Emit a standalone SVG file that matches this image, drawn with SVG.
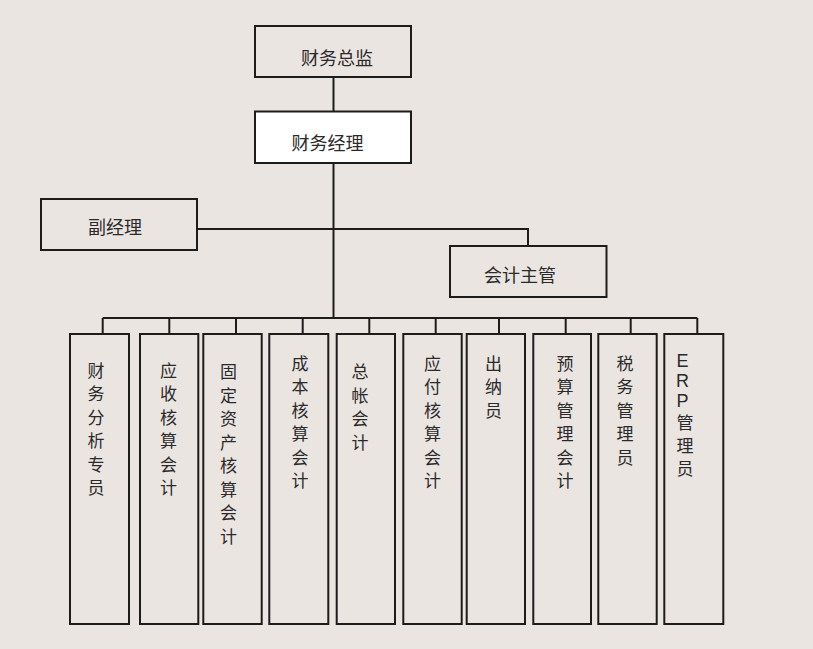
<svg xmlns="http://www.w3.org/2000/svg" width="813" height="649" viewBox="0 0 813 649">
<style>
.bx{fill:#ebe5e2;stroke:#1c1c1c;stroke-width:2}
.wb{fill:#ffffff;stroke:#1c1c1c;stroke-width:2}
.ln{fill:none;stroke:#1c1c1c;stroke-width:2}
.t{font-family:"Noto Sans CJK SC","Liberation Sans",sans-serif;font-size:18px;fill:#2a2a2a;text-anchor:middle}
.v{font-family:"Noto Sans CJK SC","Liberation Sans",sans-serif;font-size:17px;fill:#2a2a2a;text-anchor:middle}
.e{font-family:"Liberation Sans","Noto Sans CJK SC",sans-serif;font-size:17px;fill:#2a2a2a;text-anchor:middle}
</style>
<rect width="813" height="649" fill="#ebe5e2"/>
<g id="connectors">
<path class="ln" d="M333.5 77V111"/>
<path class="ln" d="M333.5 163V318"/>
<path class="ln" d="M197 229H528V246"/>
<path class="ln" d="M102.7 318H697.3"/>
<path class="ln" d="M102.7 318V334M169.3 318V334M236 318V334M302.7 318V334M369.3 318V334M435.7 318V334M499 318V334M565.7 318V334M630.7 318V334M697.3 318V334"/>
</g>
<g id="n-cfo"><rect class="bx" x="255" y="26" width="156" height="51"/><text class="t" x="337" y="65">财务总监</text></g>
<g id="n-fm"><rect class="wb" x="255" y="111.5" width="156" height="51.5"/><text class="t" x="327.5" y="149.5">财务经理</text></g>
<g id="n-dm"><rect class="bx" x="41" y="199" width="156" height="51"/><text class="t" x="115" y="233.5">副经理</text></g>
<g id="n-ac"><rect class="bx" x="450" y="246" width="156.5" height="51"/><text class="t" x="520" y="282">会计主管</text></g>
<g id="n1"><rect class="bx" x="70" y="334" width="59" height="290"/>
<text class="v" x="96" y="376.5"><tspan x="96">财</tspan><tspan x="96" dy="23.5">务</tspan><tspan x="96" dy="23.5">分</tspan><tspan x="96" dy="23.5">析</tspan><tspan x="96" dy="23.5">专</tspan><tspan x="96" dy="23.5">员</tspan></text></g>
<g id="n2"><rect class="bx" x="140" y="334" width="58.3" height="290"/>
<text class="v" x="168.5" y="376.5"><tspan x="168.5">应</tspan><tspan x="168.5" dy="23.5">收</tspan><tspan x="168.5" dy="23.5">核</tspan><tspan x="168.5" dy="23.5">算</tspan><tspan x="168.5" dy="23.5">会</tspan><tspan x="168.5" dy="23.5">计</tspan></text></g>
<g id="n3"><rect class="bx" x="203.3" y="334" width="58.4" height="290"/>
<text class="v" x="228.5" y="378"><tspan x="228.5">固</tspan><tspan x="228.5" dy="23.5">定</tspan><tspan x="228.5" dy="23.5">资</tspan><tspan x="228.5" dy="23.5">产</tspan><tspan x="228.5" dy="23.5">核</tspan><tspan x="228.5" dy="23.5">算</tspan><tspan x="228.5" dy="23.5">会</tspan><tspan x="228.5" dy="23.5">计</tspan></text></g>
<g id="n4"><rect class="bx" x="269.3" y="334" width="59" height="290"/>
<text class="v" x="300" y="369.5"><tspan x="300">成</tspan><tspan x="300" dy="23.5">本</tspan><tspan x="300" dy="23.5">核</tspan><tspan x="300" dy="23.5">算</tspan><tspan x="300" dy="23.5">会</tspan><tspan x="300" dy="23.5">计</tspan></text></g>
<g id="n5"><rect class="bx" x="336.7" y="334" width="58.3" height="290"/>
<text class="v" x="360" y="378"><tspan x="360">总</tspan><tspan x="360" dy="23.5">帐</tspan><tspan x="360" dy="23.5">会</tspan><tspan x="360" dy="23.5">计</tspan></text></g>
<g id="n6"><rect class="bx" x="403.3" y="334" width="58.4" height="290"/>
<text class="v" x="432.5" y="369.5"><tspan x="432.5">应</tspan><tspan x="432.5" dy="23.5">付</tspan><tspan x="432.5" dy="23.5">核</tspan><tspan x="432.5" dy="23.5">算</tspan><tspan x="432.5" dy="23.5">会</tspan><tspan x="432.5" dy="23.5">计</tspan></text></g>
<g id="n7"><rect class="bx" x="466.7" y="334" width="58.3" height="290"/>
<text class="v" x="493.5" y="369.5"><tspan x="493.5">出</tspan><tspan x="493.5" dy="23.5">纳</tspan><tspan x="493.5" dy="23.5">员</tspan></text></g>
<g id="n8"><rect class="bx" x="533.3" y="334" width="57.7" height="290"/>
<text class="v" x="565" y="369.5"><tspan x="565">预</tspan><tspan x="565" dy="23.5">算</tspan><tspan x="565" dy="23.5">管</tspan><tspan x="565" dy="23.5">理</tspan><tspan x="565" dy="23.5">会</tspan><tspan x="565" dy="23.5">计</tspan></text></g>
<g id="n9"><rect class="bx" x="598.3" y="334" width="58.4" height="290"/>
<text class="v" x="625" y="369.5"><tspan x="625">税</tspan><tspan x="625" dy="23.5">务</tspan><tspan x="625" dy="23.5">管</tspan><tspan x="625" dy="23.5">理</tspan><tspan x="625" dy="23.5">员</tspan></text></g>
<g id="n10"><rect class="bx" x="664.3" y="334" width="59" height="290"/>
<text class="e" x="683" y="367"><tspan x="682.5" font-size="18">E</tspan><tspan x="682.5" dy="20" font-size="18">R</tspan><tspan x="682.5" dy="20" font-size="18">P</tspan><tspan x="685" dy="22">管</tspan><tspan x="685" dy="23">理</tspan><tspan x="685" dy="23">员</tspan></text></g>
</svg>
